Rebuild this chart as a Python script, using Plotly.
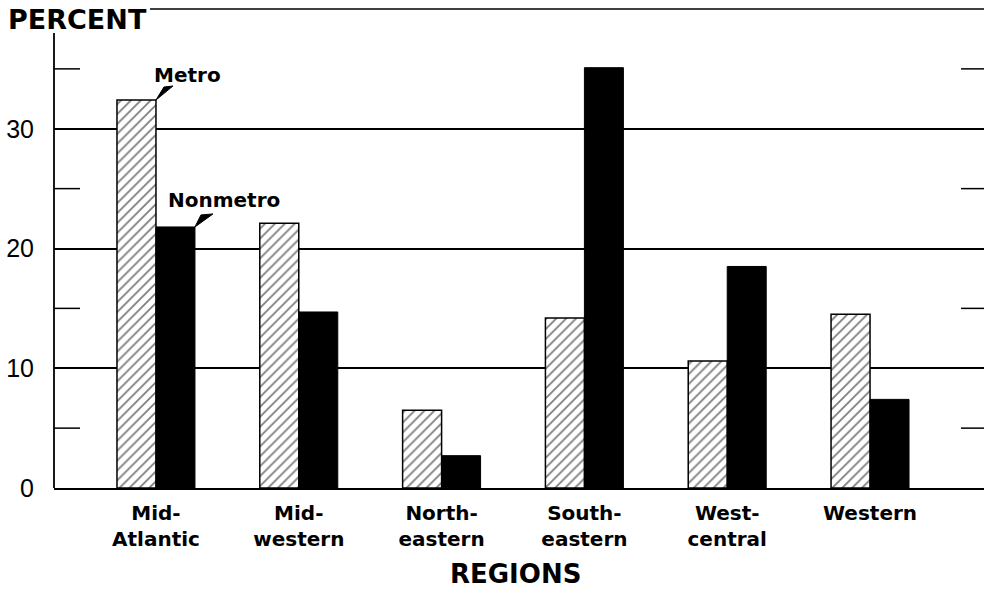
import plotly.graph_objects as go

# ---- data ----
regions = ["Mid-<br>Atlantic", "Mid-<br>western", "North-<br>eastern",
           "South-<br>eastern", "West-<br>central", "Western"]
metro = [32.4, 22.1, 6.5, 14.2, 10.6, 14.5]
nonmetro = [21.8, 14.7, 2.7, 35.1, 18.5, 7.4]
y_ticks = [0, 10, 20, 30]
minor_ticks = [5, 15, 25, 35]

# ---- geometry helpers ----
W, H = 984, 590
ML, MR, MT, MB = 54, 0, 9, 102
PW, PH = W - ML - MR, H - MT - MB
XR = [-0.714, 5.798]
YR = [0, 40]
ux = (XR[1] - XR[0]) / PW      # data units per px (x)
uy = (YR[1] - YR[0]) / PH      # data units per px (y)
BW = 0.273
xpos = list(range(len(regions)))

FONT_B = "DejaVu Sans"
FONT_N = "Liberation Sans"

fig = go.Figure()
fig.add_trace(go.Bar(
    x=xpos, y=metro, width=BW, offset=-BW, name="Metro",
    marker=dict(color="white", line=dict(color="black", width=1.5),
                pattern=dict(shape="/", fgcolor="black", bgcolor="white",
                             size=7, solidity=0.26)),
))
fig.add_trace(go.Bar(
    x=xpos, y=nonmetro, width=BW, offset=0, name="Nonmetro",
    marker=dict(color="black", line=dict(color="black", width=1)),
))

shapes = []
# left axis line (stops short of the top)
shapes.append(dict(type="line", xref="paper", yref="y", x0=0, x1=0, y0=0, y1=38,
                   line=dict(color="black", width=1.8)))
# top frame line
shapes.append(dict(type="line", xref="paper", yref="paper",
                   x0=(150 - ML) / PW, x1=1, y0=1, y1=1,
                   line=dict(color="black", width=1.5)))
# minor ticks left and right
for v in minor_ticks:
    shapes.append(dict(type="line", xref="paper", yref="y", x0=0, x1=26 / PW,
                       y0=v, y1=v, line=dict(color="black", width=1.5)))
    shapes.append(dict(type="line", xref="paper", yref="y", x0=(961 - ML) / PW, x1=1,
                       y0=v, y1=v, line=dict(color="black", width=1.5)))

# pointer wedges from labels to bar corners
def wedge(xc, yc, p1, p2):
    pts = [(xc, yc),
           (xc + p1[0] * ux, yc + p1[1] * uy),
           (xc + p2[0] * ux, yc + p2[1] * uy)]
    path = "M {} {} L {} {} L {} {} Z".format(*[c for p in pts for c in p])
    return dict(type="path", xref="x", yref="y", path=path,
                fillcolor="black", line=dict(color="black", width=1))

shapes.append(wedge(xpos[0], metro[0], (8, 13), (17, 14)))
shapes.append(wedge(xpos[0] + BW, nonmetro[0], (6, 12), (18, 13)))

annotations = [
    dict(text="Metro", xref="x", yref="y",
         x=xpos[0] + (188 - 156) * ux, y=metro[0] + (100 - 75) * uy,
         showarrow=False, font=dict(family=FONT_B, size=20, color="black", weight="bold"),
         xanchor="center", yanchor="middle"),
    dict(text="Nonmetro", xref="x", yref="y",
         x=xpos[0] + (224 - 156) * ux, y=nonmetro[0] + (227 - 200) * uy,
         showarrow=False, font=dict(family=FONT_B, size=20, color="black", weight="bold"),
         xanchor="center", yanchor="middle"),
    dict(text="PERCENT", xref="paper", yref="paper",
         x=(6 - ML) / PW, y=1 - (19 - MT) / PH, showarrow=False,
         font=dict(family=FONT_B, size=27, color="black", weight="bold"),
         xanchor="left", yanchor="middle"),
    dict(text="REGIONS", xref="paper", yref="paper",
         x=(515 - ML) / PW, y=-(574 - (H - MB)) / PH, showarrow=False,
         font=dict(family=FONT_B, size=26, color="black", weight="bold"),
         xanchor="center", yanchor="middle"),
]

fig.update_layout(
    width=W, height=H,
    margin=dict(l=ML, r=MR, t=MT, b=MB, pad=0),
    paper_bgcolor="white", plot_bgcolor="white",
    showlegend=False,
    barmode="overlay",
    shapes=shapes,
    annotations=annotations,
    xaxis=dict(range=XR, tickvals=xpos, ticktext=regions,
               showgrid=False, zeroline=False,
               showline=True, linecolor="black", linewidth=2,
               ticks="outside", ticklen=6, tickcolor="rgba(0,0,0,0)",
               tickfont=dict(family=FONT_B, size=20, color="black", weight="bold")),
    yaxis=dict(range=YR, tickvals=y_ticks, ticktext=[str(v) for v in y_ticks],
               showgrid=True, gridcolor="black", gridwidth=1.5,
               zeroline=False, showline=False,
               ticks="outside", ticklen=14, tickcolor="rgba(0,0,0,0)",
               tickfont=dict(family=FONT_N, size=25, color="black")),
)

fig.write_html("out.html", config={"displayModeBar": False},
               post_script="document.body.style.margin='0';document.body.style.overflow='hidden';")
